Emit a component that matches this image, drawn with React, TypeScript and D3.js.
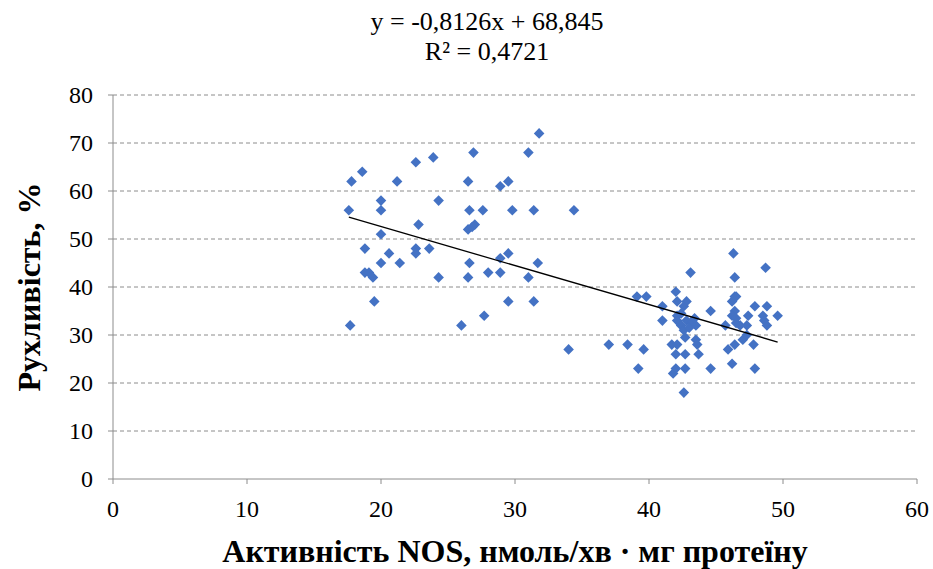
import React from 'react'
import * as d3 from 'd3'

// values
const nosActivity = [
  31.8, 26.9, 31.0, 23.9, 22.6, 18.6, 17.8, 21.2, 26.5, 28.9, 29.5, 20.0, 24.3, 17.6, 20.0, 26.6,
  27.6, 29.8, 31.4, 34.4, 22.8, 27.0, 26.5, 26.8, 20.0, 18.8, 22.6, 22.6, 23.6, 20.6, 28.9, 29.5,
  20.0, 21.4, 26.6, 31.7, 18.8, 19.1, 19.4, 24.3, 26.5, 28.0, 28.9, 31.0, 19.5, 29.5, 31.4, 27.7,
  17.7, 26.0, 34.0,
  37.0, 38.4, 39.6, 39.2, 39.1, 39.8, 41.0, 41.0, 42.0, 42.1, 42.8, 42.6, 42.1, 42.4, 42.1, 42.4,
  42.8, 43.2, 43.5, 43.4, 42.6, 43.0, 43.1, 44.6, 41.7, 42.1, 42.0, 42.7, 42.7, 43.5, 43.6, 43.7,
  41.8, 42.0, 42.7, 42.6, 44.6, 46.3, 48.7, 46.4, 46.4, 46.5, 46.2, 46.4, 46.2, 46.5, 45.7, 46.8,
  46.5, 47.3, 47.4, 47.9, 48.8, 48.5, 49.6, 48.6, 48.8, 47.0, 47.8, 45.9, 46.4, 46.2, 47.9, 47.3
]
const motility = [
  72, 68, 68, 67, 66, 64, 62, 62, 62, 61, 62, 58, 58, 56, 56, 56,
  56, 56, 56, 56, 53, 53, 52, 52.5, 51, 48, 48, 47, 48, 47, 46, 47,
  45, 45, 45, 45, 43, 43, 42, 42, 42, 43, 43, 42, 37, 37, 37, 34,
  32, 32, 27,
  28, 28, 27, 23, 38, 38, 36, 33, 39, 37, 37, 36, 34, 34.5, 33, 32,
  33, 32.5, 32, 33.5, 31, 31.5, 43, 35, 28, 28, 26, 26, 29.5, 29, 28, 26,
  22, 23, 23, 18, 23, 47, 44, 42, 38, 38, 37, 35, 34, 33.5, 32, 32,
  32.5, 32, 34, 36, 36, 34, 34, 33, 32, 29, 28, 27, 28, 24, 23, 30
]
const xTicks = [0, 10, 20, 30, 40, 50, 60]
const yTicks = [0, 10, 20, 30, 40, 50, 60, 70, 80]
const slope = -0.8126
const intercept = 68.845
const equationText = 'y = -0,8126x + 68,845'
const r2Text = 'R² = 0,4721'
const xTitle = 'Активність NOS, нмоль/хв · мг протеїну'
const yTitle = 'Рухливість, %'

const width = 933
const height = 569
const left = 113
const right = 917
const top = 95
const bottom = 479

export default function App() {
  const x = d3.scaleLinear().domain([0, 60]).range([left, right])
  const y = d3.scaleLinear().domain([0, 80]).range([bottom, top])
  const diamond = d3.symbol(d3.symbolSquare, 56)()
  const xMin = d3.min(nosActivity) as number
  const xMax = d3.max(nosActivity) as number
  const font = '"Liberation Serif", "Times New Roman", serif'

  return (
    <svg width={width} height={height} style={{ position: 'absolute', left: 0, top: 0 }}
      fontFamily={font}>
      <rect width={width} height={height} fill="#fff" />
      {yTicks.filter(t => t > 0).map(t => (
        <line key={'g' + t} x1={left} x2={right} y1={y(t)} y2={y(t)}
          stroke="#8c8c8c" strokeWidth={1} strokeDasharray="4,3" />
      ))}
      <line x1={left} x2={left} y1={top} y2={bottom} stroke="#8c8c8c" />
      <line x1={left} x2={right} y1={bottom} y2={bottom} stroke="#8c8c8c" />
      {yTicks.map(t => (
        <g key={'y' + t}>
          <line x1={left - 5} x2={left} y1={y(t)} y2={y(t)} stroke="#8c8c8c" />
          <text x={left - 20} y={y(t)} dy="0.35em" textAnchor="end" fontSize={24}>{t}</text>
        </g>
      ))}
      {xTicks.map(t => (
        <g key={'x' + t}>
          <line x1={x(t)} x2={x(t)} y1={bottom} y2={bottom + 5} stroke="#8c8c8c" />
          <text x={x(t)} y={bottom + 30} dy="0.35em" textAnchor="middle" fontSize={24}>{t}</text>
        </g>
      ))}
      {nosActivity.map((v, i) => (
        <path key={i} d={diamond}
          transform={`translate(${x(v)},${y(motility[i])}) rotate(45)`}
          fill="#4472C4" />
      ))}
      <line x1={x(xMin)} y1={y(slope * xMin + intercept)} x2={x(xMax)} y2={y(slope * xMax + intercept)}
        stroke="#000" strokeWidth={1.3} />
      <text x={487} y={21} dy="0.35em" textAnchor="middle" fontSize={26}>{equationText}</text>
      <text x={487} y={51} dy="0.35em" textAnchor="middle" fontSize={26}>{r2Text}</text>
      <text x={515} y={551} dy="0.35em" textAnchor="middle" fontSize={32} fontWeight="bold">{xTitle}</text>
      <text transform={`translate(29,${(top + bottom) / 2}) rotate(-90)`} dy="0.35em"
        textAnchor="middle" fontSize={32} fontWeight="bold">{yTitle}</text>
    </svg>
  )
}
